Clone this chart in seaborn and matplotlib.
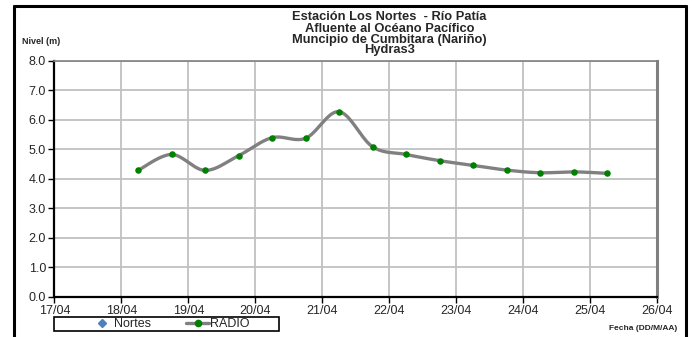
import numpy as np
import pandas as pd
import seaborn as sns
import matplotlib.pyplot as plt
import matplotlib.dates as mdates
from matplotlib.lines import Line2D
from matplotlib.patches import Rectangle

# datos (cada 12 h)
fechas = pd.date_range("2024-04-18 06:00", periods=15, freq="12h")
nivel = [4.29, 4.83, 4.29, 4.79, 5.40, 5.38, 6.28, 5.09, 4.83,
         4.62, 4.46, 4.30, 4.21, 4.24, 4.19]
titulo = ["Estación Los Nortes  - Río Patía", "Afluente al Océano Pacífico",
          "Muncipio de Cumbitara (Nariño)", "Hydras3"]
dias = pd.date_range("2024-04-17", "2024-04-26", freq="D")
yticks = np.arange(0, 8.1, 1.0)

sns.set_theme(style="white")
plt.rcParams['font.family'] = ['Liberation Sans', 'DejaVu Sans']

df = pd.DataFrame({"fecha": fechas, "nivel": nivel})
df["x"] = mdates.date2num(df["fecha"])

# suavizado tipo Excel (Catmull-Rom) solo para dibujar la curva
def catmull(x, y, n=20):
    x = np.asarray(x); y = np.asarray(y)
    px = np.r_[x[0], x, x[-1]]
    py = np.r_[y[0], y, y[-1]]
    xs, ys = [], []
    t = np.linspace(0, 1, n, endpoint=False)
    for i in range(1, len(px) - 2):
        for p, out in ((px, xs), (py, ys)):
            p0, p1, p2, p3 = p[i-1], p[i], p[i+1], p[i+2]
            out.extend(0.5 * ((2*p1) + (-p0 + p2)*t + (2*p0 - 5*p1 + 4*p2 - p3)*t**2
                              + (-p0 + 3*p1 - 3*p2 + p3)*t**3))
    xs.append(x[-1]); ys.append(y[-1])
    return np.array(xs), np.array(ys)

sx, sy = catmull(df["x"], df["nivel"])
curva = pd.DataFrame({"x": sx, "y": sy})

fig = plt.figure(figsize=(6.92, 3.37), dpi=100)
ax = fig.add_axes([0.0785, 0.119, 0.8715, 0.700])

sns.lineplot(data=curva, x="x", y="y", ax=ax, color="#808080", lw=2.4, sort=False)
sns.scatterplot(data=df, x="x", y="nivel", ax=ax, color="#008000", s=22,
                edgecolor="#008000", linewidth=0, zorder=5)

ax.set_xlim(mdates.date2num(dias[0]), mdates.date2num(dias[-1]))
ax.set_ylim(0, 8)
ax.set_xticks(mdates.date2num(dias))
ax.set_xticklabels([d.strftime("%d/%m") for d in dias], fontsize=9)
ax.set_yticks(yticks)
ax.set_yticklabels([f"{v:.1f}" for v in yticks], fontsize=9)
ax.set_xlabel("")
ax.set_ylabel("")
ax.grid(True, color="#c0c0c0", lw=1.3)
ax.tick_params(axis="both", length=4, width=1, color="black", pad=2, direction="out",
               left=True, bottom=True)
for s in ["left", "bottom"]:
    ax.spines[s].set_color("black")
    ax.spines[s].set_linewidth(1.6)
ax.spines["top"].set_color("#808080")
ax.spines["top"].set_linewidth(1.2)
ax.spines["right"].set_color("#808080")
ax.spines["right"].set_linewidth(2.2)

for i, t in enumerate(titulo):
    fig.text(0.563, 1 - (17.5 + 11 * i) / 337, t, ha="center", va="center",
             fontsize=9.3, fontweight="bold")
fig.text(0.032, 1 - 42 / 337, "Nivel (m)", ha="left", va="center", fontsize=6.5,
         fontweight="bold")
fig.text(0.978, 1 - 329 / 337, "Fecha (DD/M/AA)", ha="right", va="center",
         fontsize=6, fontweight="bold")

W, H = 692, 337
# recuadro de la leyenda
fig.add_artist(Rectangle((54 / W, 1 - 331 / H), 225 / W, 14 / H, fill=False,
                         edgecolor="black", lw=1.2, transform=fig.transFigure))
handles = [Line2D([], [], ls="none", marker="D", color="#4f81bd", markersize=4),
           Line2D([], [], color="#808080", lw=2.4, marker="o", markersize=4.5,
                  markerfacecolor="#008000", markeredgecolor="#008000")]
leg = fig.legend(handles, ["Nortes", "RADIO"], loc="center", ncol=2,
                 bbox_to_anchor=(170 / W, 1 - 324 / H),
                 fontsize=9, frameon=False, borderpad=0.0,
                 handlelength=1.8, handletextpad=0.1, columnspacing=2.8,
                 borderaxespad=0)

# marco exterior (sin borde inferior)
for xs_, ys_ in [((13.5, 13.5), (337, 5.5)), ((13.5, 686), (5.5, 5.5)),
                 ((686, 686), (5.5, 337))]:
    fig.add_artist(Line2D(np.array(xs_) / W, 1 - np.array(ys_) / H,
                          color="black", lw=2.2))

fig.savefig("out.png", dpi=100)
